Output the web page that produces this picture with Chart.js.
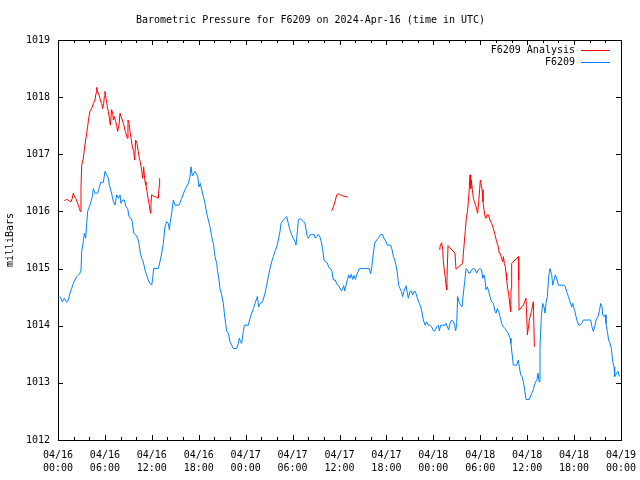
<!DOCTYPE html>
<html>
<head>
<meta charset="utf-8">
<script src="https://cdn.jsdelivr.net/npm/chart.js@4.4.1/dist/chart.umd.min.js"></script>
<style>
  html, body { margin: 0; padding: 0; background: #fff; }
  #wrap { width: 640px; height: 480px; }
</style>
</head>
<body>
<div id="wrap"><canvas id="pressure_chart" width="640" height="480"></canvas></div>
<script>
// hours since 04/16 00:00 UTC, pressure in millibars
const stationHours = [
  0.26, 0.55, 0.81, 1.11, 1.32, 1.53, 1.75, 1.96, 2.17, 2.39, 2.6, 2.81, 2.94, 3.03, 3.24, 3.37, 3.54, 3.67, 3.79, 4.01,
  4.22, 4.39, 4.52, 4.73, 5.07, 5.24, 5.46, 5.8, 6.01, 6.22, 6.44, 6.57, 6.74, 6.95, 7.08, 7.29, 7.5, 7.72, 7.93, 8.06,
  8.27, 8.48, 8.7, 8.91, 9.08, 9.34, 9.51, 9.68, 9.93, 10.19, 10.36, 10.53, 10.7, 10.91, 11.13, 11.34, 11.55, 11.77, 11.98, 12.11,
  12.23, 12.83, 13.09, 13.26, 13.47, 13.68, 13.9, 14.11, 14.24, 14.37, 14.54, 14.75, 14.96, 15.48, 15.82, 16.24, 16.67, 16.88, 17.01, 17.18,
  17.52, 17.86, 18.03, 18.2, 18.37, 18.59, 18.8, 19.01, 19.23, 19.44, 19.65, 19.87, 19.99,
  20.08, 20.29, 20.42, 20.59, 20.72, 20.93, 21.15, 21.27, 21.44, 21.57, 21.78, 22.0, 22.21, 22.42, 22.85, 23.06, 23.19, 23.36, 23.49, 23.7,
  23.83, 24.34, 24.56, 24.77, 24.98, 25.2, 25.41, 25.49, 25.66, 25.84, 26.18, 26.47, 26.69, 26.9, 27.11, 27.33, 27.54, 27.75, 27.97, 28.18,
  28.39, 28.52, 28.82, 29.03, 29.25, 29.46, 29.67, 29.88, 30.1, 30.31, 30.44, 30.61, 30.74, 30.95,
  31.16, 31.38, 31.59, 31.72, 31.89, 32.02, 32.23, 32.74, 32.91, 33.08, 33.29, 33.51, 33.72, 33.85, 34.02, 34.19, 34.45, 34.62, 34.87, 35.04,
  35.21, 35.47, 35.64, 35.9, 36.07, 36.24, 36.41, 36.53, 36.66, 36.83, 37.0, 37.17, 37.34, 37.51, 37.69, 37.86, 38.03, 38.2, 38.37, 38.54,
  39.82, 39.99, 40.16, 40.33, 40.5, 40.75, 41.01, 41.27, 41.52, 41.69, 41.95, 42.12, 42.54, 42.72, 42.89, 43.06, 43.23, 43.4, 43.57, 43.74,
  43.91, 44.08, 44.25, 44.51, 44.68, 44.8, 45.02, 45.19, 45.36, 45.53, 45.7, 45.87, 46.04, 46.21, 46.38, 46.51,
  46.72, 46.94, 47.15, 47.36, 47.58, 47.79, 48.0, 48.21, 48.43, 48.64, 48.77, 48.94, 49.2, 49.49, 49.62, 49.79, 49.96, 50.13, 50.35, 50.56,
  50.73, 50.86, 50.99, 51.11, 51.28, 51.5, 51.67, 51.84, 52.01, 52.18, 52.35, 52.52, 52.69, 52.9, 53.12, 53.33, 53.54, 53.76, 53.97, 54.18,
  54.31, 54.48, 54.61, 54.74, 54.91, 55.08, 55.25, 55.46, 55.68, 55.89, 56.02, 56.19, 56.36, 56.53, 56.74, 56.95, 57.17, 57.38, 57.59, 57.81,
  57.93, 58.06, 58.23, 58.66, 58.87, 59.0, 59.17, 59.34, 59.51, 59.68, 59.85, 60.28, 60.58, 60.79, 60.92, 61.09, 61.26, 61.39, 61.52, 61.64,
  61.81, 61.98, 62.15, 62.28, 62.41, 62.58, 62.75, 62.92, 63.14, 63.26, 63.43, 63.6, 63.77, 63.99, 64.71, 64.88, 65.05, 65.27, 65.48, 65.69,
  65.82, 65.99, 66.12, 66.25, 66.42, 66.59, 66.76, 66.97, 67.19, 68.12, 68.29, 68.46, 68.63, 68.81, 69.06, 69.23, 69.4, 69.57, 69.66, 69.83,
  70.0, 70.08, 70.25, 70.42, 70.6, 70.77, 70.94, 71.11, 71.19, 71.45, 71.62, 71.79
];
const stationValues = [
  1014.51, 1014.42, 1014.48, 1014.41, 1014.45, 1014.57, 1014.65, 1014.74, 1014.80, 1014.86, 1014.89, 1014.92, 1014.97, 1015.30, 1015.47, 1015.62, 1015.53, 1015.79, 1016.00, 1016.08,
  1016.17, 1016.26, 1016.40, 1016.32, 1016.32, 1016.40, 1016.51, 1016.51, 1016.70, 1016.64, 1016.58, 1016.46, 1016.38, 1016.26, 1016.17, 1016.11, 1016.29, 1016.23, 1016.29, 1016.14,
  1016.20, 1016.20, 1016.08, 1016.05, 1015.91, 1015.88, 1015.82, 1015.62, 1015.59, 1015.53, 1015.44, 1015.27, 1015.18, 1015.12, 1014.97, 1014.89, 1014.80, 1014.74, 1014.71, 1014.83,
  1015.00, 1015.00, 1015.15, 1015.27, 1015.44, 1015.73, 1015.82, 1015.79, 1015.68, 1015.82, 1015.97, 1016.20, 1016.11, 1016.11, 1016.23, 1016.38, 1016.49, 1016.61, 1016.78, 1016.62,
  1016.70, 1016.62, 1016.43, 1016.49, 1016.38, 1016.26, 1016.14, 1015.97, 1015.85, 1015.73, 1015.56, 1015.44, 1015.30,
  1015.21, 1015.09, 1014.95, 1014.80, 1014.65, 1014.54, 1014.39, 1014.22, 1014.04, 1013.90, 1013.87, 1013.72, 1013.66, 1013.60, 1013.60, 1013.69, 1013.78, 1013.72, 1013.69, 1013.90,
  1014.01, 1014.01, 1014.13, 1014.22, 1014.30, 1014.39, 1014.48, 1014.51, 1014.33, 1014.39, 1014.42, 1014.57, 1014.71, 1014.86, 1015.00, 1015.12, 1015.21, 1015.30, 1015.38, 1015.50,
  1015.65, 1015.79, 1015.85, 1015.88, 1015.91, 1015.79, 1015.67, 1015.59, 1015.53, 1015.47, 1015.41, 1015.65, 1015.85, 1015.88,
  1015.85, 1015.82, 1015.80, 1015.68, 1015.56, 1015.53, 1015.59, 1015.60, 1015.53, 1015.56, 1015.60, 1015.55, 1015.44, 1015.33, 1015.15, 1015.12, 1015.10, 1015.02, 1015.00, 1014.95,
  1014.80, 1014.80, 1014.73, 1014.70, 1014.65, 1014.61, 1014.65, 1014.70, 1014.61, 1014.70, 1014.80, 1014.89, 1014.83, 1014.90, 1014.81, 1014.88, 1014.81, 1014.89, 1014.95, 1015.00,
  1015.00, 1014.91, 1015.06, 1015.27, 1015.44, 1015.50, 1015.54, 1015.60, 1015.59, 1015.53, 1015.47, 1015.41, 1015.41, 1015.33, 1015.21, 1015.15, 1015.06, 1014.92, 1014.70, 1014.65,
  1014.60, 1014.51, 1014.61, 1014.70, 1014.57, 1014.48, 1014.60, 1014.61, 1014.54, 1014.60, 1014.60, 1014.52, 1014.45, 1014.39, 1014.33, 1014.27,
  1014.10, 1014.01, 1014.07, 1014.01, 1014.01, 1013.98, 1013.91, 1013.91, 1013.98, 1014.01, 1013.91, 1014.01, 1014.01, 1014.01, 1014.04, 1013.98, 1013.93, 1014.04, 1014.10, 1014.07,
  1014.01, 1013.91, 1014.04, 1014.51, 1014.42, 1014.36, 1014.33, 1014.57, 1014.77, 1015.00, 1014.98, 1014.92, 1014.92, 1014.98, 1015.00, 1014.99, 1014.92, 1014.98, 1015.00, 1014.98,
  1014.83, 1014.89, 1014.80, 1014.63, 1014.68, 1014.60, 1014.51, 1014.42, 1014.39, 1014.25, 1014.22, 1014.30, 1014.25, 1014.16, 1014.04, 1013.98, 1013.95, 1013.90, 1013.87, 1013.78,
  1013.69, 1013.52, 1013.31, 1013.31, 1013.40, 1013.28, 1013.14, 1013.11, 1013.02, 1012.88, 1012.71, 1012.71, 1012.82, 1012.88, 1012.96, 1013.02, 1013.06, 1013.17, 1013.02, 1013.63,
  1014.16, 1014.39, 1014.33, 1014.22, 1014.39, 1014.51, 1014.86, 1015.00, 1014.89, 1014.71, 1014.80, 1014.89, 1014.83, 1014.71, 1014.71, 1014.68, 1014.60, 1014.51, 1014.42, 1014.33,
  1014.39, 1014.30, 1014.25, 1014.16, 1014.07, 1014.01, 1014.01, 1014.04, 1014.10, 1014.10, 1013.98, 1013.90, 1013.98, 1014.10, 1014.16, 1014.25, 1014.39, 1014.33, 1014.19, 1014.16,
  1014.19, 1014.04, 1013.90, 1013.75, 1013.69, 1013.60, 1013.37, 1013.28, 1013.11, 1013.17, 1013.20, 1013.11
];

// analysis series, null = no data (breaks the line)
const analysisHours = [
  0.81, 1.11, 1.41, 1.66, 1.83, 1.96, 2.09, 2.26, 2.43, 2.6, 2.73, 2.86, 2.94, 3.03, 3.24, 3.37, 3.54, 3.67, 3.79, 3.92,
  4.09, 4.31, 4.52, 4.73, 4.86, 4.95, 5.07, 5.24, 5.41, 5.58, 5.71, 5.84, 5.93, 6.01, 6.14, 6.31, 6.44, 6.57, 6.69, 6.86,
  6.99, 7.08, 7.2, 7.38, 7.5, 7.63, 7.8, 7.93, 8.06, 8.23, 8.36, 8.48, 8.61, 8.74, 8.87, 8.95, 9.08, 9.21, 9.34, 9.51,
  9.68, 9.81, 9.93, 10.1, 10.27, 10.4, 10.53, 10.7, 10.83, 10.96, 11.04, 11.13, 11.25, 11.38, 11.55, 11.68, 11.81, 11.89, 11.98, 12.32,
  12.62, 12.83, 12.92, 13.0,
  24.0,
  35.0, 35.21, 35.43, 35.64, 35.85, 36.15, 36.49, 37.05,
  42.0,
  48.73, 48.85, 48.98, 49.07, 49.2, 49.28, 49.41, 49.54, 49.62, 49.71, 49.79, 49.88, 50.35, 50.77, 50.9, 51.75, 51.84, 51.97, 52.09, 52.22,
  52.35, 52.48, 52.61, 52.69, 52.78, 52.86, 52.99, 53.12, 53.25, 53.42, 53.54, 53.67, 53.8, 53.93, 54.01, 54.1, 54.23, 54.35, 54.48, 54.61,
  54.74, 54.87, 55.04, 55.25, 55.46, 55.68, 55.89, 56.1, 56.31, 56.44, 56.53, 56.74, 56.87, 56.96, 57.08, 57.21, 57.3, 57.38, 57.51, 57.64,
  57.72, 57.81, 57.89, 57.94, 58.02, 58.87, 58.92, 58.96, 59.51, 59.85, 59.94, 60.03, 60.28, 60.54, 60.79, 60.92
];
const analysisValues = [
  1016.19, 1016.21, 1016.19, 1016.17, 1016.23, 1016.32, 1016.27, 1016.23, 1016.17, 1016.11, 1016.05, 1016.00, 1016.40, 1016.81, 1016.93, 1017.08, 1017.25, 1017.37, 1017.48, 1017.63,
  1017.75, 1017.80, 1017.89, 1017.95, 1018.07, 1018.17, 1018.10, 1018.04, 1017.95, 1017.89, 1017.80, 1017.89, 1018.01, 1018.10, 1017.98, 1017.83, 1017.75, 1017.63, 1017.51, 1017.78,
  1017.72, 1017.60, 1017.66, 1017.57, 1017.51, 1017.40, 1017.51, 1017.72, 1017.66, 1017.60, 1017.54, 1017.48, 1017.40, 1017.34, 1017.28, 1017.60, 1017.54, 1017.40, 1017.28, 1017.13,
  1017.05, 1016.90, 1017.25, 1017.19, 1017.05, 1016.93, 1016.87, 1016.72, 1016.58, 1016.78, 1016.64, 1016.52, 1016.46, 1016.35, 1016.20, 1016.11, 1015.97, 1016.14, 1016.29, 1016.26,
  1016.25, 1016.23, 1016.43, 1016.58,
  null,
  1016.01, 1016.08, 1016.17, 1016.29, 1016.31, 1016.29, 1016.27, 1016.25,
  null,
  1015.34, 1015.38, 1015.43, 1015.45, 1015.33, 1015.12, 1014.97, 1014.83, 1014.71, 1014.63, 1015.03, 1015.40, 1015.33, 1015.27, 1014.99, 1015.09, 1015.27, 1015.47, 1015.67, 1015.88,
  1015.99, 1016.17, 1016.43, 1016.64, 1016.40, 1016.55, 1016.38, 1016.23, 1016.17, 1016.11, 1016.03, 1015.97, 1016.17, 1016.40, 1016.55, 1016.49, 1016.38, 1016.17, 1016.03, 1015.91,
  1015.88, 1015.94, 1015.94, 1015.85, 1015.79, 1015.70, 1015.59, 1015.47, 1015.38, 1015.27, 1015.27, 1015.18, 1015.12, 1015.21, 1015.09, 1015.03, 1014.92, 1014.80, 1014.65, 1014.54,
  1014.45, 1014.33, 1014.25, 1014.65, 1015.09, 1015.21, 1014.80, 1014.27, 1014.36, 1014.48, 1014.16, 1013.84, 1014.10, 1014.25, 1014.42, 1013.63
];

const xTickLabels = [
  ["04/16", "00:00"], ["04/16", "06:00"], ["04/16", "12:00"], ["04/16", "18:00"],
  ["04/17", "00:00"], ["04/17", "06:00"], ["04/17", "12:00"], ["04/17", "18:00"],
  ["04/18", "00:00"], ["04/18", "06:00"], ["04/18", "12:00"], ["04/18", "18:00"],
  ["04/19", "00:00"]
];
const yMin = 1012;
const yMax = 1019;

const monoFont = "'DejaVu Sans Mono', 'Liberation Mono', monospace";

function toPoints(hours, values) {
    return hours.map((h, i) => ({ x: h, y: values[i] }));
}

// gnuplot style frame with inward tics on all four sides
const frameTics = {
    id: "frameTics",
    afterDatasetsDraw(chart) {
        const { ctx, chartArea: a, scales } = chart;
        ctx.save();
        ctx.strokeStyle = "#000";
        ctx.lineWidth = 1;
        ctx.beginPath();
        for (let h = 0; h <= 72; h += 2) {
            const px = Math.round(scales.x.getPixelForValue(h)) + 0.5;
            const len = h % 6 === 0 ? 5 : 3;
            ctx.moveTo(px, a.bottom);
            ctx.lineTo(px, a.bottom - len);
            ctx.moveTo(px, a.top);
            ctx.lineTo(px, a.top + len);
        }
        for (let v = yMin; v <= yMax; v++) {
            const py = Math.round(scales.y.getPixelForValue(v)) + 0.5;
            ctx.moveTo(a.left, py);
            ctx.lineTo(a.left + 5, py);
            ctx.moveTo(a.right, py);
            ctx.lineTo(a.right - 5, py);
        }
        ctx.stroke();
        ctx.strokeRect(Math.round(a.left) + 0.5, Math.round(a.top) + 0.5,
            Math.round(a.right - a.left), Math.round(a.bottom - a.top));
        ctx.restore();
    },
};

// legend in the top right corner: text then a line sample
const cornerLegend = {
    id: "cornerLegend",
    afterDraw(chart) {
        const { ctx, chartArea: a } = chart;
        ctx.save();
        ctx.font = "10px " + monoFont;
        ctx.textAlign = "right";
        ctx.textBaseline = "middle";
        chart.data.datasets.forEach((ds, i) => {
            const y = a.top + 10.5 + i * 12;
            ctx.fillStyle = "#000";
            ctx.fillText(ds.label, a.right - 46, y);
            ctx.strokeStyle = ds.borderColor;
            ctx.lineWidth = 1;
            ctx.beginPath();
            ctx.moveTo(a.right - 40, y);
            ctx.lineTo(a.right - 11, y);
            ctx.stroke();
        });
        ctx.restore();
    },
};

const ctx = document.getElementById("pressure_chart").getContext("2d");
new Chart(ctx, {
    type: "line",
    data: {
        datasets: [
            {
                label: "F6209 Analysis",
                data: toPoints(analysisHours, analysisValues),
                borderColor: "#ff0000",
                borderWidth: 1,
                pointRadius: 0,
                tension: 0,
                spanGaps: false,
            },
            {
                label: "F6209",
                data: toPoints(stationHours, stationValues),
                borderColor: "#0080ff",
                borderWidth: 1,
                pointRadius: 0,
                tension: 0,
            },
        ],
    },
    options: {
        responsive: false,
        animation: false,
        layout: { padding: { right: 19 } },
        plugins: {
            legend: { display: false },
            tooltip: { enabled: false },
            title: {
                display: true,
                text: "Barometric Pressure for F6209 on 2024-Apr-16 (time in UTC)",
                color: "#000",
                font: { family: monoFont, size: 10, weight: "normal", lineHeight: 1.2 },
                padding: { top: 14, bottom: 14 },
            },
        },
        scales: {
            x: {
                type: "linear",
                min: 0,
                max: 72,
                grid: { display: false, drawTicks: false },
                border: { display: false },
                ticks: {
                    stepSize: 6,
                    autoSkip: false,
                    maxRotation: 0,
                    padding: 9,
                    color: "#000",
                    font: { family: monoFont, size: 10, lineHeight: 1.3 },
                    callback: (value) => xTickLabels[value / 6],
                },
                afterFit: (scale) => {
                    scale.height = 40;
                    scale.paddingLeft = 0;
                    scale.paddingRight = 0;
                },
            },
            y: {
                min: yMin,
                max: yMax,
                grid: { display: false, drawTicks: false },
                border: { display: false },
                ticks: {
                    stepSize: 1,
                    padding: 8,
                    color: "#000",
                    font: { family: monoFont, size: 10 },
                    callback: (value) => String(value),
                },
                title: {
                    display: true,
                    text: "milliBars",
                    color: "#000",
                    font: { family: monoFont, size: 10, lineHeight: 1.2 },
                    padding: { top: 4, bottom: 0 },
                },
                afterFit: (scale) => {
                    scale.width = 58;
                    scale.paddingTop = 0;
                    scale.paddingBottom = 0;
                },
            },
        },
    },
    plugins: [frameTics, cornerLegend],
});
</script>
</body>
</html>
